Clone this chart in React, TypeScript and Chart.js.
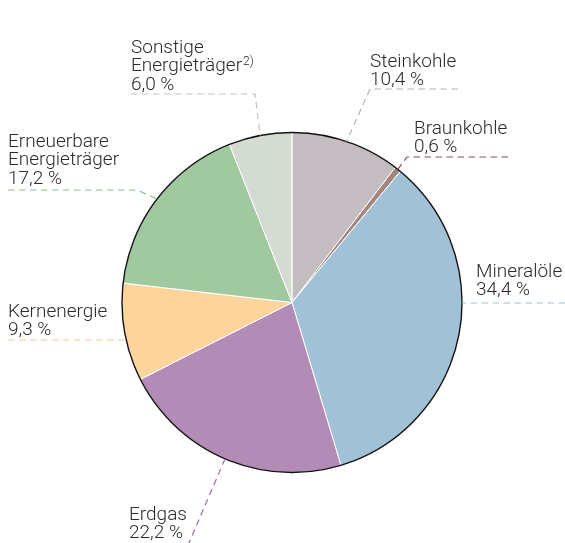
import React, { useEffect, useRef } from "react";
import { Chart, registerables } from "chart.js";

Chart.register(...registerables);

// ---- data ----
const categories = [
  "Steinkohle",
  "Braunkohle",
  "Mineralöle",
  "Erdgas",
  "Kernenergie",
  "Erneuerbare Energieträger",
  "Sonstige Energieträger",
];
const shares = [10.4, 0.6, 34.4, 22.2, 9.3, 17.2, 6.0];
const nameLines = [
  ["Steinkohle"],
  ["Braunkohle"],
  ["Mineralöle"],
  ["Erdgas"],
  ["Kernenergie"],
  ["Erneuerbare", "Energieträger"],
  ["Sonstige", "Energieträger"],
];
const footnoteMarks = ["", "", "", "", "", "", "2)"];

// ---- styles ----
const sliceColors = ["#c3bcc0", "#a2857c", "#a0c1d6", "#b38bb7", "#fdd49b", "#a1c9a0", "#d4dcd2"];
const lineColors = ["#b8afb4", "#8e4c58", "#94c4dc", "#a8699a", "#fbc985", "#86c493", "#b9c8b9"];

type Layout = {
  tx: number;
  ty: number; // baseline of first line
  mode: "mid" | "h" | "radial";
  path?: number[][]; // points from outer end to elbow
  endY?: number;
};
const layouts: Layout[] = [
  { tx: 370, ty: 66.5, mode: "mid", path: [[458, 89], [370, 89]] },
  { tx: 414, ty: 134, mode: "mid", path: [[508, 157], [407, 157]] },
  { tx: 476, ty: 277, mode: "h", path: [[565, 303]] },
  { tx: 129, ty: 520, mode: "radial", endY: 546 },
  { tx: 8, ty: 317, mode: "h", path: [[8, 340]] },
  { tx: 8, ty: 147, mode: "mid", path: [[8, 190], [137, 190]] },
  { tx: 131, ty: 53, mode: "mid", path: [[131, 94], [255, 94]] },
];
const FONT = 'Roboto, "Liberation Sans", Arial, sans-serif';
const WEIGHT = 300;
const SIZE = 19;
const LINE_H = 18.3;

const fmt = (v: number) => v.toFixed(1).replace(".", ",") + " %";

const labelPlugin = {
  id: "pieLabels",
  afterDatasetsDraw(chart: any) {
    const ctx = chart.ctx as CanvasRenderingContext2D;
    const meta = chart.getDatasetMeta(0);
    const a0 = meta.data[0] as any;
    const cx = a0.x, cy = a0.y, r = a0.outerRadius;
    ctx.save();
    // outer outline
    ctx.beginPath();
    ctx.arc(cx, cy, r, 0, Math.PI * 2);
    ctx.strokeStyle = "#111";
    ctx.lineWidth = 1.4;
    ctx.stroke();

    meta.data.forEach((arc: any, i: number) => {
      const L = layouts[i];
      const pts: number[][] = [];
      if (L.mode === "mid") {
        const ang = (arc.startAngle + arc.endAngle) / 2;
        pts.push(...(L.path || []));
        pts.push([cx + r * Math.cos(ang), cy + r * Math.sin(ang)]);
      } else if (L.mode === "h") {
        const p = L.path![0];
        const dy = p[1] - cy;
        const dx = Math.sqrt(Math.max(r * r - dy * dy, 0));
        const x = p[0] > cx ? cx + dx : cx - dx;
        pts.push(p, [x, p[1]]);
      } else {
        const ang = (arc.startAngle + arc.endAngle) / 2;
        const ax = cx + r * Math.cos(ang), ay = cy + r * Math.sin(ang);
        const t = (L.endY! - ay) / Math.sin(ang);
        pts.push([ax, ay], [ax + t * Math.cos(ang), L.endY!]);
      }
      ctx.beginPath();
      ctx.setLineDash([6.5, 4.5]);
      ctx.lineWidth = 1.2;
      ctx.strokeStyle = lineColors[i];
      pts.forEach((p, k) => (k === 0 ? ctx.moveTo(p[0], p[1]) : ctx.lineTo(p[0], p[1])));
      ctx.stroke();
      ctx.setLineDash([]);

      // text
      ctx.fillStyle = "#2b2b2b";
      ctx.textAlign = "left";
      ctx.textBaseline = "alphabetic";
      const lines = [...nameLines[i], fmt(shares[i])];
      lines.forEach((s, k) => {
        const y = L.ty + k * LINE_H;
        ctx.font = `${WEIGHT} ${SIZE}px ${FONT}`;
        ctx.fillText(s, L.tx, y);
        if (k === nameLines[i].length - 1 && footnoteMarks[i]) {
          const w = ctx.measureText(s).width;
          ctx.font = `${WEIGHT} 12px ${FONT}`;
          ctx.fillText(footnoteMarks[i], L.tx + w + 1, y - 6);
        }
      });
    });
    ctx.restore();
  },
};

export default function App() {
  const ref = useRef<HTMLCanvasElement>(null);
  useEffect(() => {
    const chart = new Chart(ref.current!, {
      type: "pie",
      data: {
        labels: categories,
        datasets: [
          {
            data: shares,
            backgroundColor: sliceColors,
            borderColor: "#ffffff",
            borderWidth: 1,
          },
        ],
      },
      options: {
        responsive: false,
        animation: false,
        radius: 170,
        layout: { padding: { left: 19, right: 0, top: 62, bottom: 0 } },
        plugins: { legend: { display: false }, tooltip: { enabled: false } },
      } as any,
      plugins: [labelPlugin],
    });
    return () => chart.destroy();
  }, []);
  return (
    <div style={{ position: "absolute", left: 0, top: 0, width: 565, height: 543, background: "#fff" }}>
      <canvas ref={ref} width={565} height={543} style={{ display: "block" }} />
    </div>
  );
}
